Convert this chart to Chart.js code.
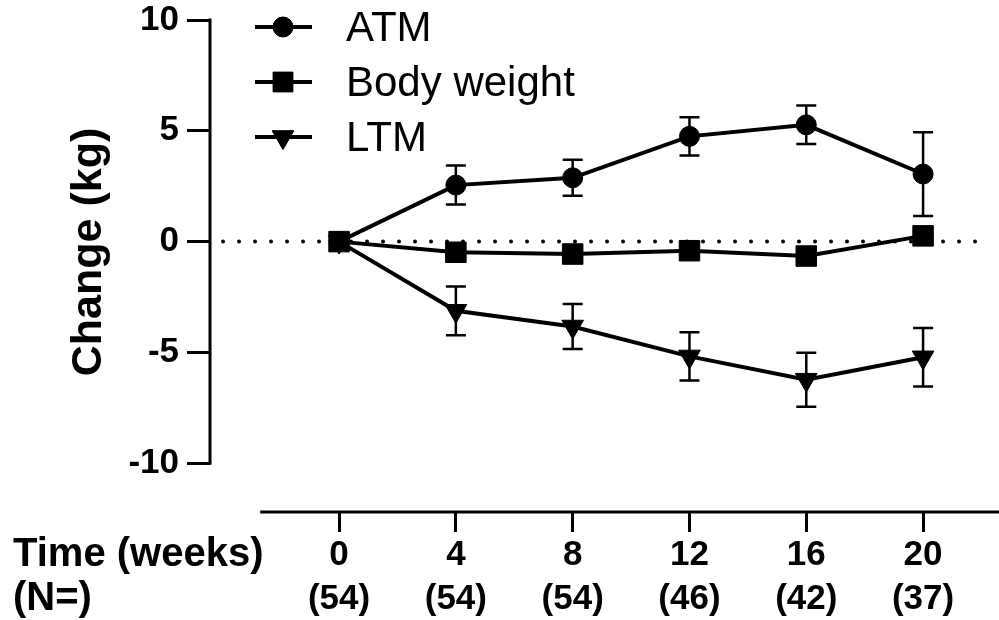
<!DOCTYPE html>
<html><head><meta charset="utf-8">
<script src="https://cdn.jsdelivr.net/npm/chart.js@4.4.0/dist/chart.umd.min.js"></script>
<style>html,body{margin:0;padding:0;background:#fff;overflow:hidden;}canvas{display:block;}</style>
</head><body>
<canvas id="c" width="999" height="620" style="width:999px;height:620px;"></canvas>
<script>
// ---- data ----
const weeks = [0, 4, 8, 12, 16, 20];
const nLabels = ['(54)', '(54)', '(54)', '(46)', '(42)', '(37)'];
const atm = [0, 2.55, 2.88, 4.75, 5.27, 3.05];
const atmErr = [0, 0.88, 0.81, 0.86, 0.87, 1.89];
const bodyWeight = [0, -0.48, -0.56, -0.41, -0.65, 0.26];
const ltm = [0, -3.12, -3.83, -5.18, -6.23, -5.22];
const ltmErr = [0, 1.10, 1.02, 1.09, 1.22, 1.32];
const yTicks = [-10, -5, 0, 5, 10];
const seriesNames = ['ATM', 'Body weight', 'LTM'];
const yTitle = 'Change (kg)';
const rowTitles = ['Time (weeks)', '(N=)'];

const FONT = "'Liberation Sans', Arial, sans-serif";
const pts = arr => weeks.map((w, i) => ({x: w, y: arr[i]}));

const datasets = [
  {label: seriesNames[0], data: pts(atm), err: atmErr, pointStyle: 'circle', pointRadius: 10, pointRotation: 0},
  {label: seriesNames[1], data: pts(bodyWeight), err: null, pointStyle: 'rect', pointRadius: 14.5, pointRotation: 0},
  {label: seriesNames[2], data: pts(ltm), err: ltmErr, pointStyle: 'triangle', pointRadius: 12.5, pointRotation: 180}
].map(d => Object.assign(d, {
  borderColor: '#000', backgroundColor: '#000', borderWidth: 4,
  pointBackgroundColor: '#000', pointBorderColor: '#000', pointBorderWidth: 1,
  pointHoverRadius: d.pointRadius, tension: 0, clip: false
}));

const decor = {
  id: 'decor',
  beforeDatasetsDraw(chart) {
    const {ctx, scales: {x, y}, chartArea} = chart;
    ctx.save();
    ctx.strokeStyle = '#000';
    ctx.lineWidth = 3;
    ctx.beginPath();
    ctx.moveTo(chartArea.left, y.getPixelForValue(10) - 1.5);
    ctx.lineTo(chartArea.left, y.getPixelForValue(-10) + 1.5);
    ctx.stroke();
    ctx.beginPath();
    ctx.moveTo(x.getPixelForValue(-2.7), chartArea.bottom);
    ctx.lineTo(chartArea.right, chartArea.bottom);
    ctx.stroke();
    // dotted zero line
    const y0 = y.getPixelForValue(0);
    ctx.setLineDash([0, 16]);
    ctx.lineCap = 'round';
    ctx.lineWidth = 4;
    ctx.beginPath();
    ctx.moveTo(chartArea.left + 13, y0);
    ctx.lineTo(chartArea.right - 8, y0);
    ctx.stroke();
    ctx.restore();
  },
  afterDatasetsDraw(chart) {
    const {ctx, scales: {x, y}} = chart;
    ctx.save();
    ctx.strokeStyle = '#000';
    ctx.lineWidth = 2.5;
    chart.data.datasets.forEach(ds => {
      if (!ds.err) return;
      ds.data.forEach((p, i) => {
        const e = ds.err[i];
        if (!e) return;
        const px = x.getPixelForValue(p.x);
        const t = y.getPixelForValue(p.y + e);
        const b = y.getPixelForValue(p.y - e);
        ctx.beginPath();
        ctx.moveTo(px, t); ctx.lineTo(px, b);
        ctx.moveTo(px - 10, t); ctx.lineTo(px + 10, t);
        ctx.moveTo(px - 10, b); ctx.lineTo(px + 10, b);
        ctx.stroke();
      });
    });
    ctx.restore();
  },
  afterDraw(chart) {
    const {ctx} = chart;
    ctx.save();
    ctx.fillStyle = '#000';
    ctx.strokeStyle = '#000';
    // legend
    chart.data.datasets.forEach((ds, i) => {
      const ly = 27 + i * 55;
      ctx.lineWidth = 4;
      ctx.beginPath();
      ctx.moveTo(255, ly); ctx.lineTo(312, ly);
      ctx.stroke();
      ctx.lineWidth = 1;
      Chart.helpers.drawPoint(ctx, {
        pointStyle: ds.pointStyle, radius: ds.pointStyle === 'rect' ? 14 : ds.pointRadius,
        rotation: ds.pointRotation, borderWidth: 1
      }, 283, ly);
      ctx.fill();
      ctx.font = '42px ' + FONT;
      ctx.textAlign = 'left';
      ctx.textBaseline = 'middle';
      ctx.fillText(ds.label, 346, ly + 2);
    });
    // y title
    ctx.save();
    ctx.translate(89, 252);
    ctx.rotate(-Math.PI / 2);
    ctx.font = 'bold 43px ' + FONT;
    ctx.textAlign = 'center';
    ctx.textBaseline = 'middle';
    ctx.fillText(yTitle, 0, 0);
    ctx.restore();
    // row titles
    ctx.font = 'bold 40px ' + FONT;
    ctx.textAlign = 'left';
    ctx.textBaseline = 'middle';
    ctx.fillText(rowTitles[0], 13, 555);
    ctx.fillText(rowTitles[1], 13, 599);
    ctx.restore();
  }
};

new Chart(document.getElementById('c'), {
  type: 'line',
  data: {datasets},
  options: {
    responsive: false,
    animation: false,
    devicePixelRatio: 1,
    layout: {autoPadding: false, padding: {top: 20, left: 0, right: 0, bottom: 0}},
    plugins: {legend: {display: false}, tooltip: {enabled: false}},
    scales: {
      x: {
        type: 'linear', min: -4.42, max: 22.6,
        afterBuildTicks: s => { s.ticks = weeks.map(v => ({value: v})); },
        afterFit: s => { s.height = 108; s.paddingLeft = 0; s.paddingRight = 0; },
        border: {display: false},
        grid: {drawOnChartArea: false, drawTicks: true, tickLength: 20, lineWidth: 3, color: '#000'},
        ticks: {
          autoSkip: false, maxRotation: 0, padding: 1, color: '#000',
          font: {family: FONT, size: 35, weight: 'bold', lineHeight: 1.27},
          callback: (v, i) => [String(weeks[i]), nLabels[i]]
        }
      },
      y: {
        type: 'linear', min: -12.2, max: 10,
        afterBuildTicks: s => { s.ticks = yTicks.map(v => ({value: v})); },
        afterFit: s => { s.width = 210; s.paddingTop = 0; s.paddingBottom = 0; },
        border: {display: false},
        grid: {drawOnChartArea: false, drawTicks: true, tickLength: 23, lineWidth: 3, color: '#000'},
        ticks: {
          padding: 8, color: '#000',
          font: {family: FONT, size: 35, weight: 'bold', lineHeight: 1.2},
          callback: v => String(v)
        }
      }
    }
  },
  plugins: [decor]
});
</script>
</body></html>
